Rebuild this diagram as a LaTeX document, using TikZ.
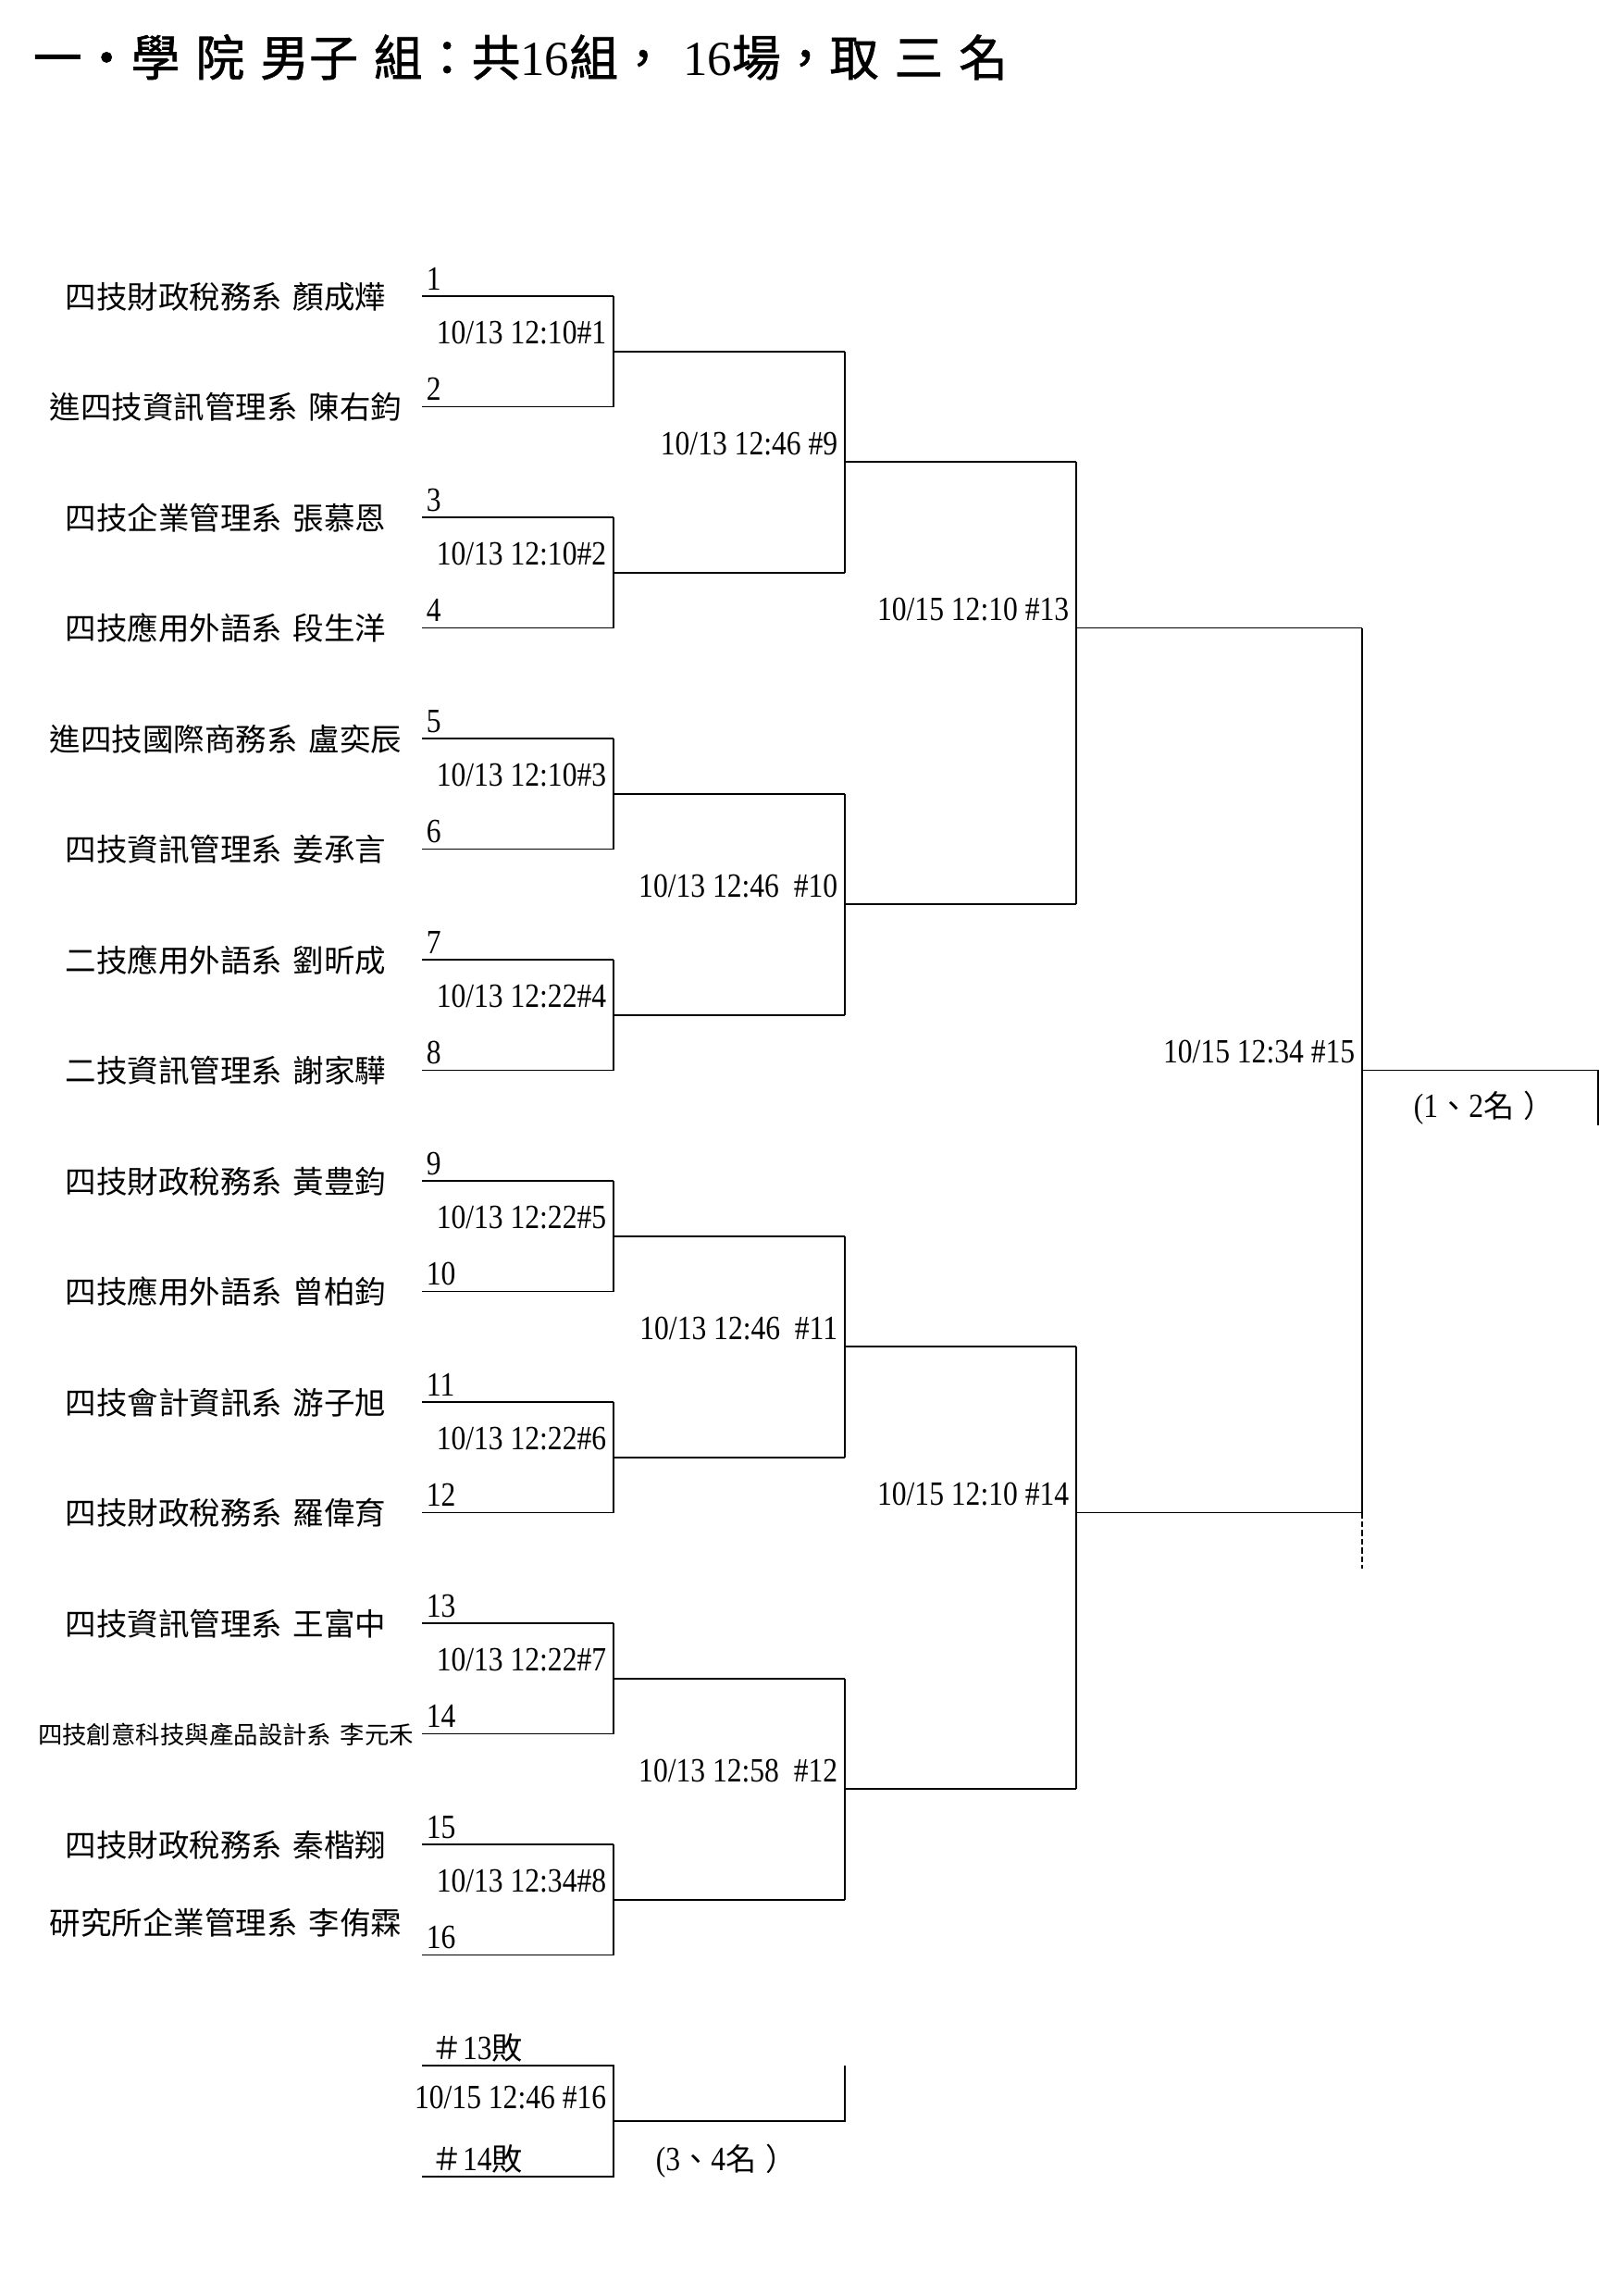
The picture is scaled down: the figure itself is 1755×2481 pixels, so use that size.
\documentclass[tikz,border=0pt]{standalone}
\usepackage{fontspec}
\setmainfont{Liberation Serif}
\newfontfamily\cjk{Noto Sans CJK TC}
\newfontfamily\cjkhead[FakeBold=1.2]{Noto Sans CJK TC}
\newfontfamily\narrow[FakeStretch=0.86]{Liberation Serif}
\usetikzlibrary{calc,positioning}
\newcommand{\zh}[1]{{\cjk\fontsize{11.3}{13}\selectfont #1}}

\begin{document}
\begin{tikzpicture}[x=0.11966mm,y=-0.11966mm,line width=0.6pt,
  lbl/.style={inner sep=0pt,anchor=base east,font=\narrow\fontsize{12.5}{14}\selectfont},
  seed/.style={inner sep=0pt,anchor=base west,font=\narrow\fontsize{12.5}{14}\selectfont},
  team/.style={inner sep=0pt,anchor=base,font=\cjk\fontsize{11.4}{13}\selectfont}]
\useasboundingbox (0,0) rectangle (1755,2481);
\node[inner sep=0pt,anchor=base west,font=\cjkhead\fontsize{18}{20}\selectfont] (title) at (35,82)
  {一\makebox[1em]{‧}學\hspace{0.32em}院\hspace{0.32em}男子\hspace{0.32em}組：共{\rmfamily 16}組，\hspace{0.32em}{\rmfamily 16}場，取\hspace{0.32em}三\hspace{0.32em}名};
\foreach \k in {1,...,16}{
  \pgfmathsetmacro\yy{320+(\k-1)*119.5}
  \coordinate (a\k) at (456,\yy);
  \coordinate (b\k) at (663,\yy);
  \draw (a\k) -- (b\k);
  \node[seed] (s\k) at ($(a\k)+(4,-7)$) {\k};
}
\foreach \k/\d/\p in {1/四技財政稅務系/顏成燁,2/進四技資訊管理系/陳右鈞,3/四技企業管理系/張慕恩,4/四技應用外語系/段生洋,
  5/進四技國際商務系/盧奕辰,6/四技資訊管理系/姜承言,7/二技應用外語系/劉昕成,8/二技資訊管理系/謝家驊,
  9/四技財政稅務系/黃豊鈞,10/四技應用外語系/曾柏鈞,11/四技會計資訊系/游子旭,12/四技財政稅務系/羅偉育,
  13/四技資訊管理系/王富中,15/四技財政稅務系/秦楷翔}{
  \node[team] (t\k) at ($(a\k)+(-212,13)$) {\d\hspace{0.35em}\p};
}
\node[team,font=\cjk\fontsize{9}{11}\selectfont] (t14) at ($(a14)+(-212,11)$) {四技創意科技與產品設計系\hspace{0.35em}李元禾};
\node[team] (t16) at ($(a16)+(-212,-22)$) {研究所企業管理系\hspace{0.35em}李侑霖};
\foreach \i in {1,...,8}{
  \pgfmathtruncatemacro\p{2*\i-1}
  \pgfmathtruncatemacro\q{2*\i}
  \draw (b\p) -- (b\q);
  \coordinate (m\i) at ($(b\p)!0.5!(b\q)$);
  \coordinate (n\i) at ($(m\i)+(250,0)$);
  \draw (m\i) -- (n\i);
}
\foreach \i/\p/\q in {9/1/2,10/3/4,11/5/6,12/7/8}{
  \draw (n\p) -- (n\q);
  \coordinate (m\i) at ($(n\p)!0.5!(n\q)$);
  \coordinate (n\i) at ($(m\i)+(250,0)$);
  \draw (m\i) -- (n\i);
}
\draw (n9) -- (n10);
\draw (n11) -- (n12);
\coordinate (m13) at (n9 |- b4);
\coordinate (m14) at (n11 |- b12);
\coordinate (n13) at ($(m13)+(309,0)$);
\coordinate (n14) at ($(m14)+(309,0)$);
\draw (m13) -- (n13);
\draw (m14) -- (n14);
\draw (n13) -- (n14);
\coordinate (d14) at ($(n14)+(0,60)$);
\draw[dash pattern=on 2.2pt off 1pt] (n14) -- (d14);
\coordinate (m15) at (n13 |- b8);
\coordinate (n15) at ($(m15)+(255,0)$);
\coordinate (e15) at ($(n15)+(0,59)$);
\draw (m15) -- (n15) -- (e15);
\coordinate (a17) at (456,2232);
\coordinate (b17) at (663,2232);
\coordinate (a18) at (456,2352);
\coordinate (b18) at (663,2352);
\draw (a17) -- (b17) -- (b18) -- (a18);
\coordinate (m16) at ($(b17)!0.5!(b18)$);
\coordinate (n16) at ($(m16)+(250,0)$);
\coordinate (u16) at (n16 |- b17);
\draw (m16) -- (n16) -- (u16);
\node[lbl] (g1) at ($(m1)+(-7,-8)$) {10/13 12:10\#1};
\node[lbl] (g2) at ($(m2)+(-7,-8)$) {10/13 12:10\#2};
\node[lbl] (g3) at ($(m3)+(-7,-8)$) {10/13 12:10\#3};
\node[lbl] (g4) at ($(m4)+(-7,-8)$) {10/13 12:22\#4};
\node[lbl] (g5) at ($(m5)+(-7,-8)$) {10/13 12:22\#5};
\node[lbl] (g6) at ($(m6)+(-7,-8)$) {10/13 12:22\#6};
\node[lbl] (g7) at ($(m7)+(-7,-8)$) {10/13 12:22\#7};
\node[lbl] (g8) at ($(m8)+(-7,-8)$) {10/13 12:34\#8};
\node[lbl] (g9) at ($(m9)+(-7,-8)$) {10/13 12:46 \#9};
\node[lbl] (g10) at ($(m10)+(-7,-8)$) {10/13 12:46\ \ \#10};
\node[lbl] (g11) at ($(m11)+(-7,-8)$) {10/13 12:46\ \ \#11};
\node[lbl] (g12) at ($(m12)+(-7,-8)$) {10/13 12:58\ \ \#12};
\node[lbl] (g13) at ($(m13)+(-7,-8)$) {10/15 12:10 \#13};
\node[lbl] (g14) at ($(m14)+(-7,-8)$) {10/15 12:10 \#14};
\node[lbl] (g15) at ($(m15)+(-7,-8)$) {10/15 12:34 \#15};
\node[lbl] (g16) at ($(m16)+(-7,-14)$) {10/15 12:46 \#16};
\node[seed] (l13) at ($(a17)+(10,-7)$) {\zh{＃}13\zh{敗}};
\node[seed] (l14) at ($(a18)+(10,-7)$) {\zh{＃}14\zh{敗}};
\node[seed] (r12) at ($(m15)+(55,51)$) {(1\zh{、}2\zh{名\hspace{0.3em}）}};
\node[seed] (r34) at ($(m16)+(45,53)$) {(3\zh{、}4\zh{名\hspace{0.3em}）}};
\end{tikzpicture}
\end{document}
